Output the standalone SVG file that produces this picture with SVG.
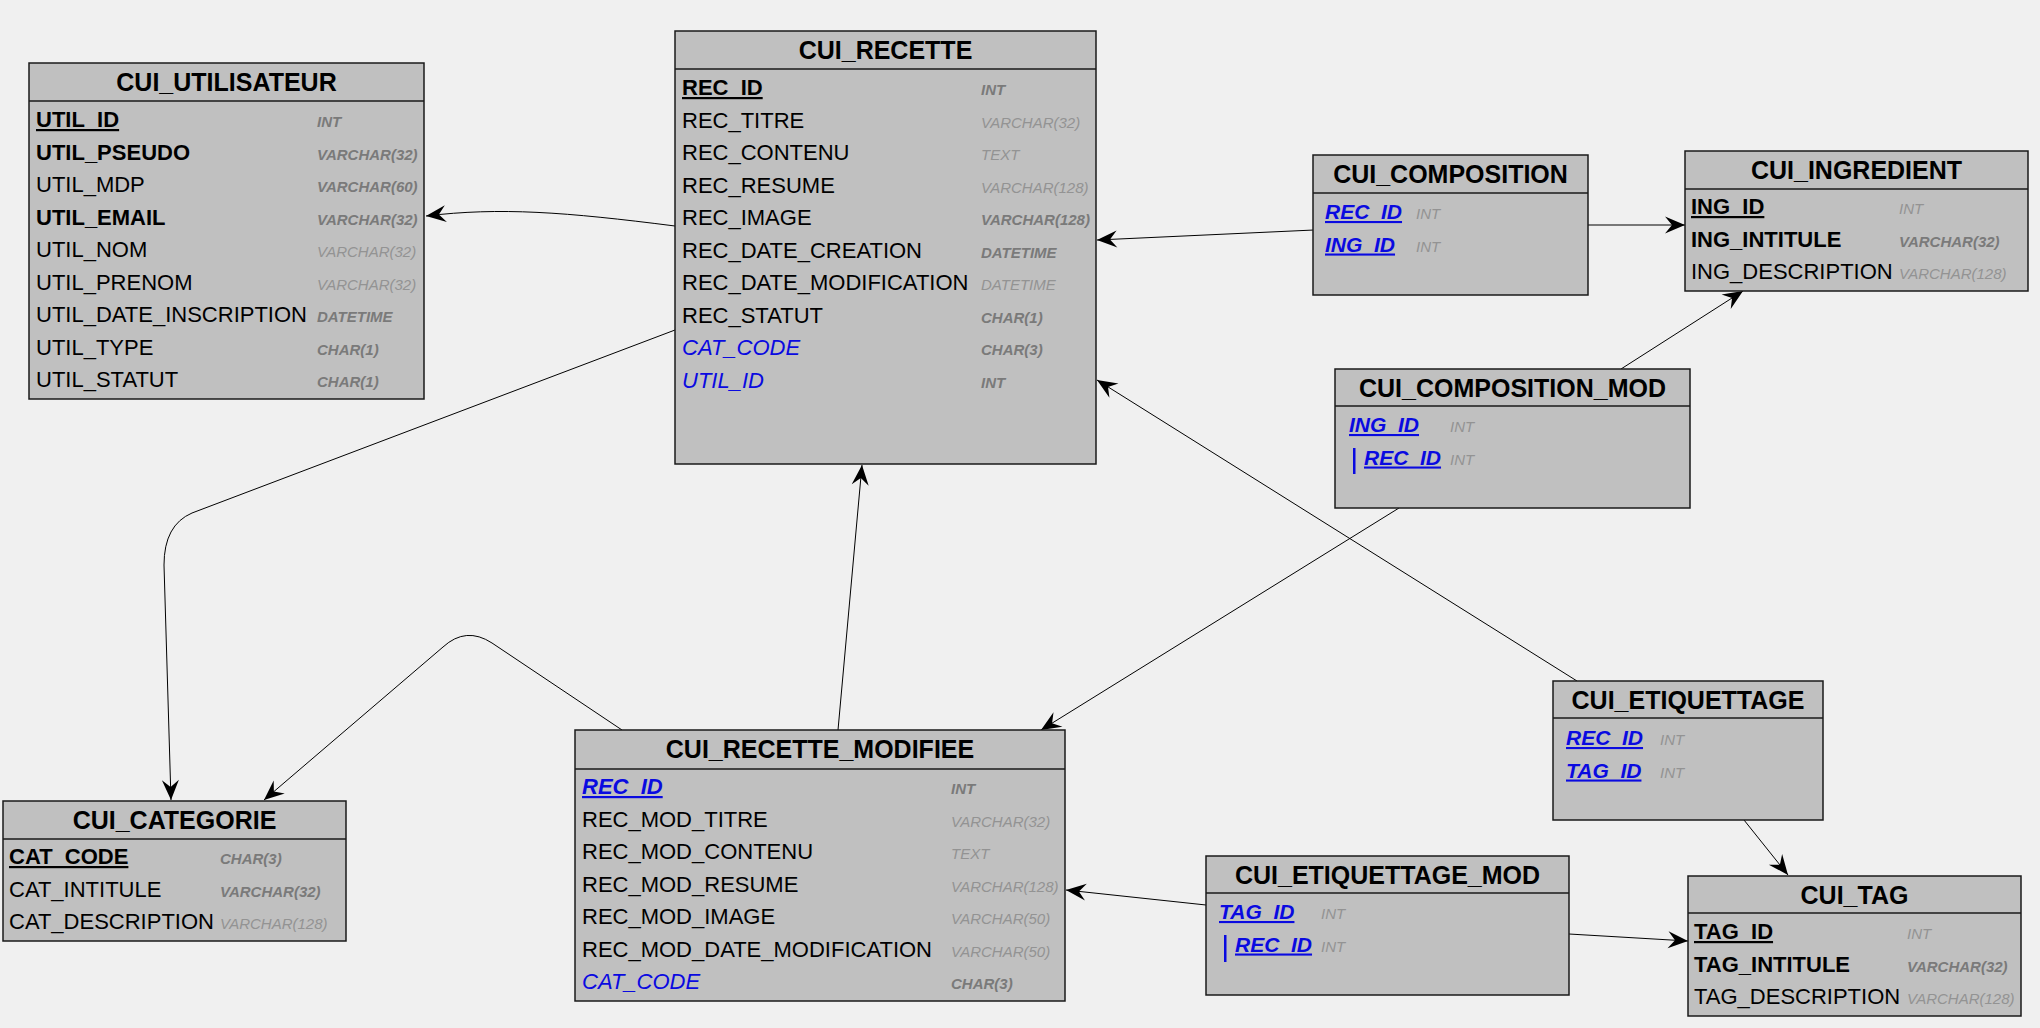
<svg xmlns="http://www.w3.org/2000/svg" width="2040" height="1028" viewBox="0 0 2040 1028">
<defs>
<style>
.bg{fill:#f0f0f0}
.box{fill:#c0c0c0;stroke:#1a1a1a;stroke-width:1.5}
.hl{stroke:#1a1a1a;stroke-width:1.5}
.title{font-family:"Liberation Sans",Arial,sans-serif;font-weight:bold;font-size:25px;fill:#000;text-anchor:middle}
.n{font-family:"Liberation Sans",Arial,sans-serif;font-size:22px;fill:#000}
.b{font-weight:bold}
.u{text-decoration:underline}
.fk{fill:#0a0ae0;font-style:italic}
.s{font-size:21px}
.t{font-family:"Liberation Sans",Arial,sans-serif;font-size:15px;font-style:italic;fill:#939393}
.tb{font-weight:bold;fill:#7a7a7a}
.bar{fill:#0a0ae0}
.c{fill:none;stroke:#000;stroke-width:1;marker-end:url(#arr)}
</style>
<marker id="arr" viewBox="-21 -10 22 20" refX="0" refY="0" markerWidth="22" markerHeight="20" markerUnits="userSpaceOnUse" orient="auto">
<path d="M0,0 L-20,-8.5 L-13,0 L-20,8.5 Z" fill="#000"/>
</marker>
</defs>
<rect class="bg" x="0" y="0" width="2040" height="1028"/>

<g id="connectors">
<path class="c" d="M675,226 C565,212 500,207 426,216"/>
<path class="c" d="M675,330 L192,513 Q164,525 164,565 L171,800"/>
<path class="c" d="M622,730 L492,643 Q466,626 443,647 L264,800"/>
<path class="c" d="M838,730 L862,465"/>
<path class="c" d="M1314,230 L1097,240"/>
<path class="c" d="M1588,225 L1685,225"/>
<path class="c" d="M1621,369 L1743,291"/>
<path class="c" d="M1399,508 L1041,730"/>
<path class="c" d="M1577,681 L1097,380"/>
<path class="c" d="M1744,820 L1788,875"/>
<path class="c" d="M1206,905 L1066,890"/>
<path class="c" d="M1569,934 L1688,941"/>
</g>

<g id="CUI_UTILISATEUR">
<rect class="box" x="29" y="63" width="395" height="336"/>
<line class="hl" x1="29" y1="101" x2="424" y2="101"/>
<text class="title" x="226.5" y="91">CUI_UTILISATEUR</text>
<text class="n b u" x="36" y="127">UTIL_ID</text><text class="t tb" x="317" y="127">INT</text>
<text class="n b" x="36" y="159.5">UTIL_PSEUDO</text><text class="t tb" x="317" y="159.5">VARCHAR(32)</text>
<text class="n" x="36" y="192">UTIL_MDP</text><text class="t tb" x="317" y="192">VARCHAR(60)</text>
<text class="n b" x="36" y="224.5">UTIL_EMAIL</text><text class="t tb" x="317" y="224.5">VARCHAR(32)</text>
<text class="n" x="36" y="257">UTIL_NOM</text><text class="t" x="317" y="257">VARCHAR(32)</text>
<text class="n" x="36" y="289.5">UTIL_PRENOM</text><text class="t" x="317" y="289.5">VARCHAR(32)</text>
<text class="n" x="36" y="322">UTIL_DATE_INSCRIPTION</text><text class="t tb" x="317" y="322">DATETIME</text>
<text class="n" x="36" y="354.5">UTIL_TYPE</text><text class="t tb" x="317" y="354.5">CHAR(1)</text>
<text class="n" x="36" y="387">UTIL_STATUT</text><text class="t tb" x="317" y="387">CHAR(1)</text>
</g>

<g id="CUI_RECETTE">
<rect class="box" x="675" y="31" width="421" height="433"/>
<line class="hl" x1="675" y1="69" x2="1096" y2="69"/>
<text class="title" x="885.5" y="59">CUI_RECETTE</text>
<text class="n b u" x="682" y="95">REC_ID</text><text class="t tb" x="981" y="95">INT</text>
<text class="n" x="682" y="127.5">REC_TITRE</text><text class="t" x="981" y="127.5">VARCHAR(32)</text>
<text class="n" x="682" y="160">REC_CONTENU</text><text class="t" x="981" y="160">TEXT</text>
<text class="n" x="682" y="192.5">REC_RESUME</text><text class="t" x="981" y="192.5">VARCHAR(128)</text>
<text class="n" x="682" y="225">REC_IMAGE</text><text class="t tb" x="981" y="225">VARCHAR(128)</text>
<text class="n" x="682" y="257.5">REC_DATE_CREATION</text><text class="t tb" x="981" y="257.5">DATETIME</text>
<text class="n" x="682" y="290">REC_DATE_MODIFICATION</text><text class="t" x="981" y="290">DATETIME</text>
<text class="n" x="682" y="322.5">REC_STATUT</text><text class="t tb" x="981" y="322.5">CHAR(1)</text>
<text class="n fk" x="682" y="355">CAT_CODE</text><text class="t tb" x="981" y="355">CHAR(3)</text>
<text class="n fk" x="682" y="387.5">UTIL_ID</text><text class="t tb" x="981" y="387.5">INT</text>
</g>

<g id="CUI_COMPOSITION">
<rect class="box" x="1313" y="155" width="275" height="140"/>
<line class="hl" x1="1313" y1="193" x2="1588" y2="193"/>
<text class="title" x="1450.5" y="183">CUI_COMPOSITION</text>
<text class="n s b u fk" x="1325" y="219">REC_ID</text><text class="t" x="1416" y="219">INT</text>
<text class="n s b u fk" x="1325" y="251.5">ING_ID</text><text class="t" x="1416" y="251.5">INT</text>
</g>

<g id="CUI_INGREDIENT">
<rect class="box" x="1685" y="151" width="343" height="140"/>
<line class="hl" x1="1685" y1="189" x2="2028" y2="189"/>
<text class="title" x="1856.5" y="179">CUI_INGREDIENT</text>
<text class="n b u" x="1691" y="214">ING_ID</text><text class="t" x="1899" y="214">INT</text>
<text class="n b" x="1691" y="246.5">ING_INTITULE</text><text class="t tb" x="1899" y="246.5">VARCHAR(32)</text>
<text class="n" x="1691" y="279">ING_DESCRIPTION</text><text class="t" x="1899" y="279">VARCHAR(128)</text>
</g>

<g id="CUI_COMPOSITION_MOD">
<rect class="box" x="1335" y="369" width="355" height="139"/>
<line class="hl" x1="1335" y1="406" x2="1690" y2="406"/>
<text class="title" x="1512.5" y="397">CUI_COMPOSITION_MOD</text>
<text class="n s b u fk" x="1349" y="432">ING_ID</text><text class="t" x="1450" y="432">INT</text>
<rect class="bar" x="1353" y="448" width="2.5" height="26"/>
<text class="n s b u fk" x="1364" y="464.5">REC_ID</text><text class="t" x="1450" y="464.5">INT</text>
</g>

<g id="CUI_RECETTE_MODIFIEE">
<rect class="box" x="575" y="730" width="490" height="271"/>
<line class="hl" x1="575" y1="769" x2="1065" y2="769"/>
<text class="title" x="820" y="758">CUI_RECETTE_MODIFIEE</text>
<text class="n b u fk" x="582" y="794">REC_ID</text><text class="t tb" x="951" y="794">INT</text>
<text class="n" x="582" y="826.5">REC_MOD_TITRE</text><text class="t" x="951" y="826.5">VARCHAR(32)</text>
<text class="n" x="582" y="859">REC_MOD_CONTENU</text><text class="t" x="951" y="859">TEXT</text>
<text class="n" x="582" y="891.5">REC_MOD_RESUME</text><text class="t" x="951" y="891.5">VARCHAR(128)</text>
<text class="n" x="582" y="924">REC_MOD_IMAGE</text><text class="t" x="951" y="924">VARCHAR(50)</text>
<text class="n" x="582" y="956.5">REC_MOD_DATE_MODIFICATION</text><text class="t" x="951" y="956.5">VARCHAR(50)</text>
<text class="n fk" x="582" y="989">CAT_CODE</text><text class="t tb" x="951" y="989">CHAR(3)</text>
</g>

<g id="CUI_CATEGORIE">
<rect class="box" x="3" y="801" width="343" height="140"/>
<line class="hl" x1="3" y1="839" x2="346" y2="839"/>
<text class="title" x="174.5" y="829">CUI_CATEGORIE</text>
<text class="n b u" x="9" y="864">CAT_CODE</text><text class="t tb" x="220" y="864">CHAR(3)</text>
<text class="n" x="9" y="896.5">CAT_INTITULE</text><text class="t tb" x="220" y="896.5">VARCHAR(32)</text>
<text class="n" x="9" y="929">CAT_DESCRIPTION</text><text class="t" x="220" y="929">VARCHAR(128)</text>
</g>

<g id="CUI_ETIQUETTAGE">
<rect class="box" x="1553" y="681" width="270" height="139"/>
<line class="hl" x1="1553" y1="718" x2="1823" y2="718"/>
<text class="title" x="1688" y="709">CUI_ETIQUETTAGE</text>
<text class="n s b u fk" x="1566" y="745">REC_ID</text><text class="t" x="1660" y="745">INT</text>
<text class="n s b u fk" x="1566" y="777.5">TAG_ID</text><text class="t" x="1660" y="777.5">INT</text>
</g>

<g id="CUI_ETIQUETTAGE_MOD">
<rect class="box" x="1206" y="856" width="363" height="139"/>
<line class="hl" x1="1206" y1="893" x2="1569" y2="893"/>
<text class="title" x="1387.5" y="884">CUI_ETIQUETTAGE_MOD</text>
<text class="n s b u fk" x="1219" y="919">TAG_ID</text><text class="t" x="1321" y="919">INT</text>
<rect class="bar" x="1224" y="935" width="2.5" height="27"/>
<text class="n s b u fk" x="1235" y="951.5">REC_ID</text><text class="t" x="1321" y="951.5">INT</text>
</g>

<g id="CUI_TAG">
<rect class="box" x="1688" y="876" width="333" height="140"/>
<line class="hl" x1="1688" y1="913" x2="2021" y2="913"/>
<text class="title" x="1854.5" y="904">CUI_TAG</text>
<text class="n b u" x="1694" y="939">TAG_ID</text><text class="t" x="1907" y="939">INT</text>
<text class="n b" x="1694" y="971.5">TAG_INTITULE</text><text class="t tb" x="1907" y="971.5">VARCHAR(32)</text>
<text class="n" x="1694" y="1004">TAG_DESCRIPTION</text><text class="t" x="1907" y="1004">VARCHAR(128)</text>
</g>
</svg>
